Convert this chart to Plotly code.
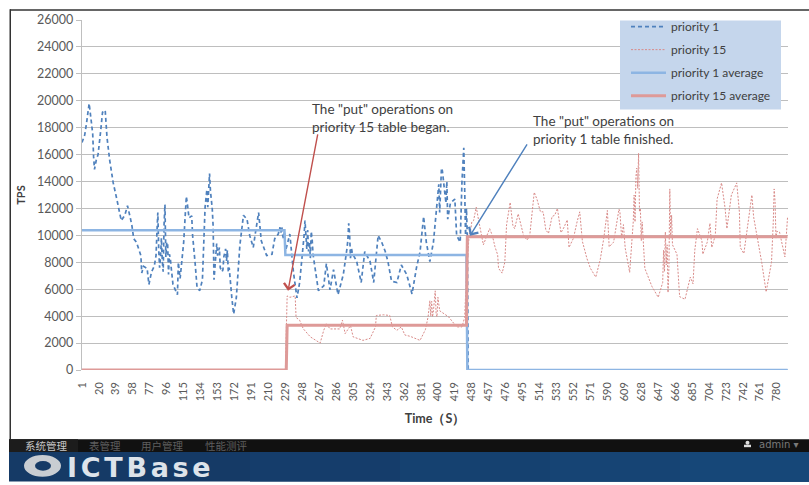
import plotly.graph_objects as go

W, H = 809, 485
L, R, T, B = 82, 788, 14.5, 370.5

p1_t = [1,4,6,9,11,13,14,15,17,19,22,24,27,29,32,36,40,43,45,49,52,55,57,59,62,67,68,70,74,76,79,82,84,86,88,89,92,94,96,98,100,103,108,109,111,115,118,121,124,125,128,130,133,136,139,141,144,146,148,149,152,156,159,162,165,169,171,174,178,182,186,189,193,195,199,202,208,214,217,223,227,229,231,234,238,242,245,251,255,259,262,266,272,275,279,283,288,294,298,300,302,309,314,318,324,328,333,337,341,344,348,354,359,365,371,376,380,384,387,391,395,398,400,404,408,411,414,419,421,425,429,431,433,434,792]
p1_v = [16900,17450,18300,19800,18700,17550,15850,14900,15600,16000,17800,19150,19300,17300,15600,13900,12700,11600,11100,11500,12200,11350,10700,9750,9500,8500,7200,7700,7550,6350,7300,7700,8500,11700,7600,8300,7300,12300,9500,7100,8300,6350,5600,8000,6800,9500,12900,11300,11450,10000,7800,6100,5900,6700,12100,13400,14600,12700,10700,6700,9400,7600,7450,9000,7300,5350,4150,5350,9270,11500,11200,10000,9100,10000,11700,9600,8500,8600,9750,10600,9750,8800,9300,10100,7300,5350,6500,11100,8800,9750,7600,5900,6250,7900,5950,7450,5600,7100,9000,10900,8300,8050,6500,8800,8050,6500,10000,9500,8800,8050,6600,6500,7800,7100,5650,7600,8800,11400,9500,8050,9500,11500,12900,15000,13400,11200,12400,12700,10000,9500,16500,10000,10000,0,0]
p1_extra_t = [85,87,90,91,93,95,97,99,101,117,119,120,140,142,143,145,147,153,155,158,160,163,164,166,221,222,224,225,226,228,249,250,252,253,254,256,257,258,260,299,301,303,304,401,402,403,405,406,407,409,410,427,428,430,432]
p1_extra_v = [10200,9000,9800,8100,10800,8400,9400,8600,7600,11800,12400,11900,12700,12100,13400,13300,12000,8500,9100,7300,8400,8100,8900,7600,10100,10500,10200,10650,10000,10300,9000,10000,9900,9000,10400,9500,8300,10300,8600,9600,10100,9100,8700,13800,11700,13000,14800,14200,13900,12400,14000,14000,15500,13500,12000]

p15_t = [1,229,231,234,240,241,245,249,257,268,272,275,279,290,293,296,302,305,316,324,330,331,339,346,349,354,359,363,369,380,386,389,391,394,397,399,402,412,421,427,430,432,435,438,440,443,446,449,451,455,458,461,464,467,468,472,475,477,481,484,486,490,494,496,500,503,508,511,515,518,521,524,528,531,534,538,541,545,547,552,556,559,562,567,571,577,582,586,590,592,597,600,603,606,610,615,619,622,625,626,628,629,632,640,647,652,655,656,658,660,663,668,671,677,683,686,688,691,696,697,702,705,707,711,713,718,722,724,729,735,738,739,743,748,752,754,757,763,768,774,777,779,783,789,792]
p15_v = [0,0,5500,5400,5500,3900,3700,3070,2460,2000,2950,3440,3050,3050,3700,2700,3300,2460,2200,2350,3200,4050,4100,4050,3200,2950,3200,2600,2500,2200,3000,3950,5150,3950,5880,3950,4400,3950,3200,3200,3900,7100,10000,11000,11100,12100,11000,10000,9300,10000,10500,10000,9150,8550,7550,7200,8000,10800,12450,10750,10500,11600,10500,10000,9650,10000,13200,12700,11750,11750,10400,10150,11400,11500,12000,10200,10550,11150,9100,9800,11000,11750,9550,8300,7550,6900,8200,9800,11850,9150,9500,10750,11950,9800,9050,7250,11000,14350,16100,11750,9600,11000,7550,6200,5400,6500,10250,7800,5750,13450,9300,8600,5450,5250,6900,6400,8900,10500,9600,8600,9500,10900,9100,10000,12700,13900,12000,10500,13000,13900,11750,9100,8650,11250,13000,11350,10250,8000,5800,8000,13450,9800,10250,8400,11350]
p15_extra_t = [392,393,395,396,398,400,437,604,605,608,620,621,623,624,627,653,654,657,659,661,662,776,778,780]
p15_extra_v = [4000,5100,4400,5300,4200,5400,10500,11800,10200,10800,13000,11000,15000,13500,12000,8900,7300,9300,7600,10000,11500,11000,12500,10300]

avg1_t = [1, 228, 229, 432, 433, 792]
avg1_v = [10380, 10380, 8550, 8550, 0, 0]
avg15_t = [1, 230, 231, 432, 433, 792]
avg15_v = [0, 0, 3320, 3320, 9900, 9900]

x_ticks = list(range(1, 781, 19))
y_ticks = list(range(0, 26001, 2000))
series_names = ["priority 1", "priority 15", "priority 1 average", "priority 15 average"]
note_red = 'The "put" operations on<br>priority 15 table began.'
note_blue = 'The "put" operations on<br>priority 1 table finished.'
menu_items = ["系统管理", "表管理", "用户管理", "性能测评"]

p1 = sorted(zip(p1_t + p1_extra_t, p1_v + p1_extra_v))
p15 = sorted(zip(p15_t + p15_extra_t, p15_v + p15_extra_v))


def px(x):
    return (x - L) / (R - L)


def py(y):
    return (B - y) / (B - T)


def rect(x0, y0, x1, y1, color):
    return dict(type="rect", xref="paper", yref="paper", x0=px(x0), x1=px(x1), y0=py(y0), y1=py(y1),
                fillcolor=color, line_width=0, layer="above")


def ellipse(x0, y0, x1, y1, color):
    return dict(type="circle", xref="paper", yref="paper", x0=px(x0), x1=px(x1), y0=py(y0), y1=py(y1),
                fillcolor=color, line_width=0, layer="above")


def label(x, y, text, size, color, family="Lato", bold=False):
    return dict(xref="paper", yref="paper", x=px(x), y=py(y), text=text, showarrow=False, xanchor="left",
                yanchor="middle", align="left", borderpad=0,
                font=dict(size=size, color=color, family=family, weight=700 if bold else 400))


fig = go.Figure()
fig.add_trace(go.Scatter(x=[a for a, _ in p1], y=[b for _, b in p1], mode="lines", name=series_names[0],
                         legendgroup="a", line=dict(color="#4F81BD", width=1.7, dash="4px,3px")))
fig.add_trace(go.Scatter(x=[a for a, _ in p15], y=[b for _, b in p15], mode="lines", name=series_names[1],
                         legendgroup="b", line=dict(color="#D98A88", width=1, dash="2px,1.5px")))
fig.add_trace(go.Scatter(x=avg1_t, y=avg1_v, mode="lines", name=series_names[2], legendgroup="c",
                         line=dict(color="#8DB5E3", width=2.5)))
fig.add_trace(go.Scatter(x=avg15_t, y=avg15_v, mode="lines", name=series_names[3], legendgroup="d",
                         line=dict(color="#DE9A98", width=3)))

shapes = [
    rect(620, 15, 781, 105.5, "#C5D6EC"),
    rect(10, 3.5, 809, 5, "#333333"),
    rect(9.5, 3.5, 11, 441, "#333333"),
    rect(9, 441, 809, 454, "#111111"),
    rect(9, 441, 78, 454, "#1C1C1C"),
    rect(9, 454, 809, 484, "#153A66"),
    rect(250, 454, 809, 484, "#153D6B"),
    rect(400, 454, 809, 484, "#154170"),
    rect(550, 454, 809, 484, "#164474"),
    rect(680, 454, 809, 484, "#164778"),
    ellipse(24, 457, 61, 479, "#C9CDD2"),
    ellipse(35, 463, 51, 473, "#153A66"),
    ellipse(745.5, 442.5, 749.5, 446.5, "#DDDDDD"),
    rect(744, 446.5, 751, 449, "#DDDDDD"),
]

annotations = [
    dict(xref="paper", yref="paper", axref="pixel", ayref="pixel", x=px(288), y=py(290), ax=30, ay=-158,
         text="", showarrow=True, arrowhead=4, arrowsize=1.5, arrowwidth=1.4, arrowcolor="#C0504D"),
    dict(xref="paper", yref="paper", axref="pixel", ayref="pixel", x=px(470), y=py(234), ax=58, ay=-93,
         text="", showarrow=True, arrowhead=4, arrowsize=1.5, arrowwidth=1.4, arrowcolor="#4F81BD"),
    label(311, 114, note_red, 13.5, "#404040"),
    label(532, 126, note_blue, 13.5, "#404040"),
    label(24, 447, menu_items[0], 10.5, "#C8C8C8", "Noto Sans CJK SC"),
    label(88, 447, menu_items[1], 10.5, "#5E5E5E", "Noto Sans CJK SC"),
    label(140, 447, menu_items[2], 10.5, "#5E5E5E", "Noto Sans CJK SC"),
    label(204, 447, menu_items[3], 10.5, "#5E5E5E", "Noto Sans CJK SC"),
    label(758, 446.5, "admin ▾", 10, "#7A7A7A", "DejaVu Sans"),
    label(66, 470, '<span style="letter-spacing:3.7px">ICTBase</span>', 27, "#DDE3EA", "DejaVu Sans", bold=True),
]

fig.update_layout(
    width=W, height=H, autosize=False,
    margin=dict(l=L, r=W - R, t=T, b=H - B, pad=0),
    paper_bgcolor="white", plot_bgcolor="white",
    font=dict(family="Lato", color="#595959"),
    showlegend=True,
    legend=dict(x=px(626), y=py(6.5), xanchor="left", yanchor="top", bgcolor="rgba(0,0,0,0)",
                borderwidth=0, itemwidth=35, font=dict(size=12, color="#404040"), tracegroupgap=4,
                traceorder="grouped", itemclick=False, itemdoubleclick=False),
    xaxis=dict(range=[1, 792.5], tickmode="array", tickvals=x_ticks, ticktext=[str(v) for v in x_ticks],
               tickangle=-90, ticks="", showgrid=False, zeroline=False, showline=False,
               ticklabelstandoff=9, tickfont=dict(size=11, color="#595959"),
               title=dict(text="Time（S）", font=dict(size=12.5, color="#404040", weight=700), standoff=13)),
    yaxis=dict(range=[0, 26000], tickmode="array", tickvals=y_ticks, ticktext=[str(v) for v in y_ticks],
               ticks="outside", ticklen=5,
               tickcolor="#BFBFBF", showgrid=True, gridcolor="#BEBEBE", gridwidth=1.4, zeroline=False,
               showline=True, linecolor="#BFBFBF", linewidth=1.4, tickfont=dict(size=12.5, color="#595959"),
               title=dict(text="TPS", font=dict(size=11, color="#404040", weight=700), standoff=9)),
    shapes=shapes, annotations=annotations,
)

fig.write_html("out.html", config={"displayModeBar": False},
               post_script="document.body.style.margin='0';document.body.style.overflow='hidden';")
